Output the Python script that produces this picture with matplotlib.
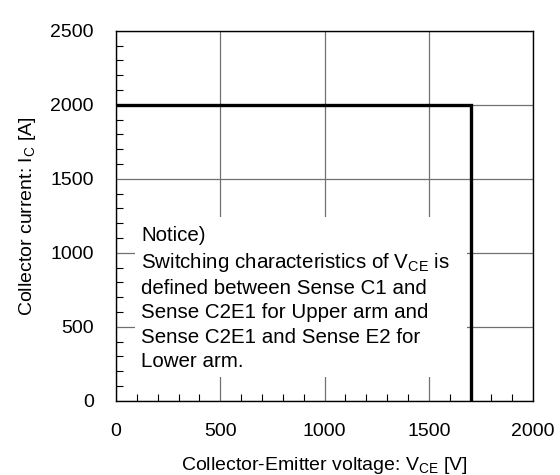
import matplotlib
matplotlib.use('Agg')
import matplotlib.pyplot as plt
from matplotlib.patches import Rectangle
from matplotlib.ticker import MultipleLocator

plt.rcParams['font.family'] = ['Liberation Sans', 'DejaVu Sans']
plt.rcParams['mathtext.fontset'] = 'custom'
plt.rcParams['mathtext.rm'] = 'Liberation Sans'
plt.rcParams['mathtext.it'] = 'Liberation Sans'

# RBSOA boundary
vce = [0, 1700, 1700]
ic = [2000, 2000, 0]

notice = ("Notice)\n"
          "Switching characteristics of V$_{\\mathregular{CE}}$ is\n"
          "defined between Sense C1 and\n"
          "Sense C2E1 for Upper arm and\n"
          "Sense C2E1 and Sense E2 for\n"
          "Lower arm.")

fig = plt.figure(figsize=(5.6, 4.75), dpi=100)
ax = fig.add_axes([0.207, 0.156, 0.745, 0.779])

ax.plot(vce, ic, color='black', lw=2.4, zorder=4, solid_joinstyle='miter')

ax.set_xlim(0, 2000)
ax.set_ylim(0, 2500)
ax.xaxis.set_major_locator(MultipleLocator(500))
ax.yaxis.set_major_locator(MultipleLocator(500))
ax.xaxis.set_minor_locator(MultipleLocator(100))
ax.yaxis.set_minor_locator(MultipleLocator(100))
ax.grid(True, which='major', color='#707070', lw=0.9, zorder=1)
ax.set_axisbelow(True)
ax.tick_params(which='major', direction='in', length=0, pad=16, labelsize=14)
ax.tick_params(which='minor', direction='in', length=5, width=0.8)
for s in ax.spines.values():
    s.set_linewidth(1.0)

ax.add_patch(Rectangle((0.046, 0.065), 0.796, 0.432, transform=ax.transAxes,
                       facecolor='white', edgecolor='none', zorder=2))
ax.text(0.06, 0.473, notice, transform=ax.transAxes, va='top', ha='left',
        fontsize=14.8, linespacing=1.35, zorder=3)

ax.set_xlabel('Collector-Emitter voltage: V$_{\\mathregular{CE}}$ [V]', fontsize=14, labelpad=11)
ax.set_ylabel('Collector current: I$_{\\mathregular{C}}$ [A]', fontsize=14, labelpad=9)

fig.savefig('out.png', dpi=100)
